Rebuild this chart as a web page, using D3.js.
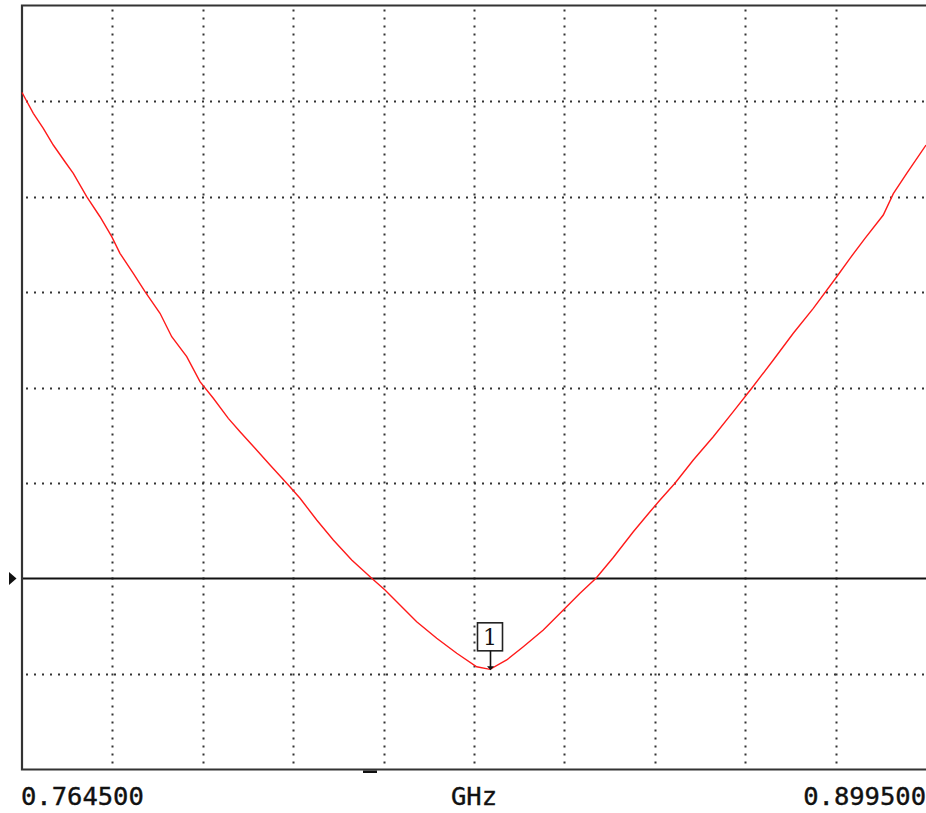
<!DOCTYPE html>
<html>
<head>
<meta charset="utf-8">
<script src="https://cdn.jsdelivr.net/npm/d3@7"></script>
<style>
  html, body { margin: 0; padding: 0; background: #fff; }
  svg { display: block; }
</style>
</head>
<body>
<script>
// ---- data (frequency in GHz, value in divisions relative to reference line) ----
const freqs = [0.7645,0.76619,0.76768,0.76917,0.77092,0.77216,0.77416,0.77615,0.77790,0.77913,
  0.78112,0.78287,0.78511,0.78686,0.78910,0.79108,0.79307,0.79531,0.79706,0.79930,
  0.80154,0.80427,0.80602,0.80851,0.81099,0.81374,0.81672,0.81871,0.82046,0.82344,
  0.82643,0.82942,0.83240,0.83439,0.83688,0.83936,0.84235,0.84534,0.84783,0.85022,
  0.85280,0.85579,0.85828,0.85978,0.86201,0.86475,0.86773,0.87072,0.87347,0.87670,
  0.87968,0.88267,0.88617,0.88815,0.89039,0.89312,0.89462,0.89662,0.8995];
const values = [5.089,4.871,4.714,4.539,4.364,4.243,3.998,3.788,3.579,3.405,
  3.196,3.003,2.777,2.532,2.323,2.061,1.887,1.677,1.537,1.363,
  1.188,0.979,0.840,0.613,0.403,0.194,0.002,-0.120,-0.243,-0.452,
  -0.626,-0.783,-0.924,-0.951,-0.853,-0.714,-0.539,-0.330,-0.155,0.002,
  0.220,0.490,0.699,0.822,0.997,1.241,1.485,1.747,1.992,2.288,
  2.568,2.829,3.160,3.353,3.562,3.806,4.030,4.243,4.539];
const xDomain = [0.7645, 0.8995];
const yDomain = [-2, 6];
const referenceLevel = 0;
const xDivisions = 10;
const yDivisions = 8;
const startLabel = "0.764500";
const stopLabel = "0.899500";
const unitLabel = "GHz";
const markerFreq = 0.83439;
const markerValue = -0.951;
const markerLabel = "1";

// ---- drawing ----
const W = 926, H = 813;
const svg = d3.select("body").append("svg").attr("width", W).attr("height", H);

const x = d3.scaleLinear().domain(xDomain).range([22, 926]);
const y = d3.scaleLinear().domain(yDomain).range([769.5, 5.5]);

const gridColor = "#333";
const xTicks = d3.range(1, xDivisions).map(i => xDomain[0] + i * (xDomain[1] - xDomain[0]) / xDivisions);
const yTicks = d3.range(1, yDivisions).map(i => yDomain[0] + i * (yDomain[1] - yDomain[0]) / yDivisions)
  .filter(v => Math.abs(v - referenceLevel) > 1e-9);

// vertical dotted grid
svg.append("g").selectAll("line").data(xTicks).join("line")
  .attr("x1", d => Math.round(x(d)) + 0.5).attr("x2", d => Math.round(x(d)) + 0.5)
  .attr("y1", y(yDomain[1]) + 4).attr("y2", y(yDomain[0]))
  .attr("stroke", gridColor).attr("stroke-width", 2)
  .attr("stroke-dasharray", "2 6");

// horizontal dotted grid
svg.append("g").selectAll("line").data(yTicks).join("line")
  .attr("x1", x(xDomain[0]) + 4).attr("x2", W)
  .attr("y1", d => Math.round(y(d)) + 0.5).attr("y2", d => Math.round(y(d)) + 0.5)
  .attr("stroke", gridColor).attr("stroke-width", 2)
  .attr("stroke-dasharray", "2 6");

// reference line
svg.append("line")
  .attr("x1", x(xDomain[0])).attr("x2", W)
  .attr("y1", y(referenceLevel)).attr("y2", y(referenceLevel))
  .attr("stroke", "#111").attr("stroke-width", 2);

// reference arrow on left
const ry = y(referenceLevel);
svg.append("path")
  .attr("d", `M9,${ry - 6.5} L16.5,${ry} L9,${ry + 6.5} Z`)
  .attr("fill", "#111");

// frame (left, top, bottom)
svg.append("path")
  .attr("d", `M${W},${y(yDomain[1])} H${x(xDomain[0])} V${y(yDomain[0])} H${W}`)
  .attr("fill", "none").attr("stroke", "#333").attr("stroke-width", 2.2);

// small dash under bottom axis
svg.append("rect").attr("x", 363).attr("y", 770.5).attr("width", 14).attr("height", 2.5).attr("fill", "#111");

// trace
const pts = freqs.map((f, i) => [f, values[i]]);
svg.append("path").datum(pts)
  .attr("d", d3.line().x(d => x(d[0])).y(d => y(d[1])))
  .attr("fill", "none").attr("stroke", "#ff1a1a").attr("stroke-width", 1.4);

// marker
const mx = Math.round(x(markerFreq)), my = y(markerValue);
const mg = svg.append("g");
mg.append("rect").attr("x", mx - 12.5).attr("y", my - 46.5).attr("width", 25).attr("height", 28)
  .attr("fill", "#fff").attr("stroke", "#222").attr("stroke-width", 1.6);
mg.append("line").attr("x1", mx + 0.5).attr("x2", mx + 0.5).attr("y1", my - 18.5).attr("y2", my - 2)
  .attr("stroke", "#111").attr("stroke-width", 1.6);
mg.append("path").attr("d", `M${mx - 3},${my - 3} L${mx + 4},${my - 3} L${mx + 0.5},${my + 1} Z`).attr("fill", "#111");
mg.append("text").attr("x", mx).attr("y", my - 24.5).attr("text-anchor", "middle")
  .attr("font-family", "'DejaVu Serif', serif").attr("font-size", 22).attr("fill", "#111")
  .text(markerLabel);

// labels
const labelFont = "'DejaVu Sans Mono', 'Liberation Mono', monospace";
svg.append("text").attr("x", 21).attr("y", 805).attr("font-family", labelFont).attr("font-size", 25.5)
  .attr("fill", "#111").attr("stroke", "#111").attr("stroke-width", 0.4).text(startLabel);
svg.append("text").attr("x", 926).attr("y", 805).attr("text-anchor", "end").attr("font-family", labelFont)
  .attr("font-size", 25.5).attr("fill", "#111").attr("stroke", "#111").attr("stroke-width", 0.4).text(stopLabel);
svg.append("text").attr("x", (x(xDomain[0]) + x(xDomain[1])) / 2).attr("y", 805).attr("text-anchor", "middle")
  .attr("font-family", labelFont).attr("font-size", 25.5).attr("fill", "#111").attr("stroke", "#111")
  .attr("stroke-width", 0.4).text(unitLabel);
</script>
</body>
</html>
